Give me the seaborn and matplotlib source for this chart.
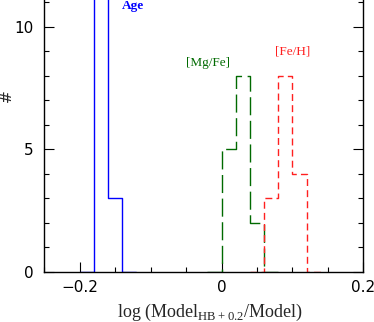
import numpy as np
import pandas as pd
import matplotlib
matplotlib.use("Agg")
import matplotlib.pyplot as plt
import seaborn as sns
from matplotlib.ticker import MultipleLocator

# bin edges and counts
age_edges = [-0.20, -0.18, -0.16, -0.14, -0.12]
age_counts = [0, 12, 3, 0]
mgfe_edges = [-0.02, 0.00, 0.02, 0.04, 0.06, 0.08]
mgfe_counts = [0, 5, 8, 2, 0]
feh_edges = [0.04, 0.06, 0.08, 0.10, 0.12, 0.14]
feh_counts = [0, 3, 8, 4, 0]

sns.set_style("ticks")
plt.rcParams["font.family"] = ["DejaVu Sans"]
plt.rcParams["mathtext.fontset"] = "custom"
plt.rcParams["mathtext.rm"] = "Liberation Serif"

fig = plt.figure(figsize=(3.74, 3.22), dpi=100)
ax = fig.add_axes([44.3 / 374, 50.3 / 322, 319 / 374, 271.7 / 322])

series = [
    (age_edges, age_counts, "#0000ff", "-"),
    (mgfe_edges, mgfe_counts, "#006a00", (0, (13, 4))),
    (feh_edges, feh_counts, "#ff2020", (0, (5, 3))),
]
for edges, counts, col, ls in series:
    e = np.array(edges)
    df = pd.DataFrame({"x": (e[:-1] + e[1:]) / 2, "n": counts})
    sns.histplot(data=df, x="x", weights="n", bins=list(edges), element="step", fill=False,
                 color=col, linestyle=ls, linewidth=1.0, ax=ax)

ax.set_xlim(-0.25, 0.2)
ax.set_ylim(0, 11.09)
ax.spines["top"].set_visible(False)
for s in ["left", "bottom", "right"]:
    ax.spines[s].set_linewidth(1.0)
    ax.spines[s].set_color("black")

ax.xaxis.set_major_locator(MultipleLocator(0.2))
ax.xaxis.set_minor_locator(MultipleLocator(0.05))
ax.yaxis.set_major_locator(MultipleLocator(5))
ax.yaxis.set_minor_locator(MultipleLocator(1))
ax.set_xticks([-0.2, 0, 0.2])
ax.set_xticklabels(["\u22120.2", "0", "0.2"])
ax.tick_params(which="both", direction="in", right=True, top=False, colors="black",
               labelsize=11, width=0.8)
ax.tick_params(which="major", length=7)
ax.tick_params(which="minor", length=3.6)
ax.tick_params(axis="x", which="major", pad=6)
ax.tick_params(axis="y", which="major", pad=8)

ax.set_xlabel(r"log (Model$_{\mathrm{HB+0.2}}$/Model)", family="Liberation Serif", fontsize=13)
ax.xaxis.set_label_coords(0.52, -0.112)
ax.set_ylabel("#", fontsize=11)
ax.yaxis.set_label_coords(-0.095, 0.647)

ax.text(-0.125, 10.72, "Age", color="#0000ff", family="Liberation Serif", fontsize=9.5,
        fontweight="bold", ha="center", va="baseline")
ax.text(-0.019, 8.52, "[Mg/Fe]", color="#006a00", family="Liberation Serif", fontsize=9.5,
        ha="center", va="center")
ax.text(0.1004, 9.0, "[Fe/H]", color="#ff2020", family="Liberation Serif", fontsize=9.5,
        ha="center", va="center")

fig.savefig("out.png", dpi=100)
